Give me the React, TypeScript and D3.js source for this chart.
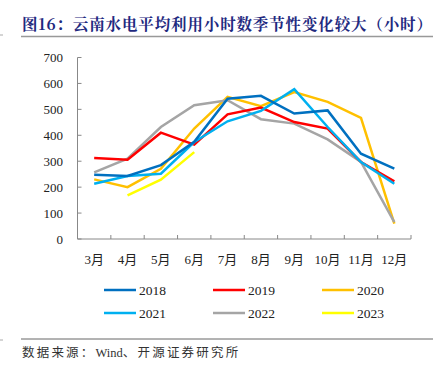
import React from "react";
import * as d3 from "d3";

const months = ["3月", "4月", "5月", "6月", "7月", "8月", "9月", "10月", "11月", "12月"];
const yTicks = [0, 100, 200, 300, 400, 500, 600, 700];

const s2018 = [248, 243, 285, 375, 541, 552, 484, 496, 329, 271];
const s2019 = [312, 306, 410, 364, 481, 507, 451, 426, 297, 222];
const s2020 = [230, 200, 271, 426, 548, 512, 567, 529, 467, 59];
const s2021 = [213, 243, 252, 374, 454, 494, 578, 432, 297, 213];
const s2022 = [257, 310, 432, 516, 535, 462, 445, 384, 297, 65];
const s2023: (number | null)[] = [null, 168, 229, 335, null, null, null, null, null, null];

const seriesNames = ["2018", "2019", "2020", "2021", "2022", "2023"];
const seriesColors = ["#0070C0", "#FF0000", "#FFC000", "#00B0F0", "#A5A5A5", "#FFFF00"];
const seriesData = [s2018, s2019, s2020, s2021, s2022, s2023];
const drawOrder = [5, 2, 4, 1, 3, 0];

const serif = "'Liberation Serif', 'Times New Roman', 'Noto Sans CJK SC', serif";

export default function App() {
  const W = 441, H = 379;
  const left = 77.5, right = 411, top = 57.5, bottom = 239;
  const x = d3.scaleBand<string>().domain(months).range([left, right]);
  const y = d3.scaleLinear().domain([0, 700]).range([bottom, top]);
  const line = d3
    .line<number | null>()
    .defined((d) => d !== null)
    .x((_, i) => (x(months[i]) as number) + x.bandwidth() / 2)
    .y((d) => y(d as number));

  const legendCols = [104, 213, 322];
  const legendRows = [290, 313];

  return (
    <svg width={W} height={H} style={{ position: "absolute", left: 0, top: 0, background: "#fff" }}>
      <text x={22} y={30} fontFamily="'Noto Serif CJK SC', 'Noto Sans CJK SC', sans-serif" fontWeight="bold" fontSize={15.5} fill="#1F2A80" textLength={410} lengthAdjust="spacing">
        图16：云南水电平均利用小时数季节性变化较大（小时）
      </text>
      <line x1={21} x2={433} y1={36.5} y2={36.5} stroke="#999" strokeWidth={1.5} />
      <line x1={0} x2={3} y1={35} y2={35} stroke="#aaa" strokeWidth={1} />

      <line x1={left} x2={left} y1={top} y2={bottom} stroke="#888" strokeWidth={1} />
      <line x1={left} x2={right} y1={bottom} y2={bottom} stroke="#888" strokeWidth={1} />
      {yTicks.map((t) => (
        <g key={t}>
          <line x1={left} x2={left + 4} y1={y(t)} y2={y(t)} stroke="#888" />
          <text x={63} y={y(t)} dy="0.35em" textAnchor="end" fontFamily={serif} fontSize={13} fill="#222">
            {t}
          </text>
        </g>
      ))}
      {months.map((m) => (
        <g key={m}>
          <line x1={(x(m) as number) + x.bandwidth()} x2={(x(m) as number) + x.bandwidth()} y1={bottom} y2={bottom - 4} stroke="#888" />
          <text x={(x(m) as number) + x.bandwidth() / 2} y={259} dy="0.35em" textAnchor="middle" fontFamily={serif} fontSize={13} fill="#222">
            {m}
          </text>
        </g>
      ))}

      {drawOrder.map((si) => (
        <path key={si} d={line(seriesData[si]) || ""} fill="none" stroke={seriesColors[si]} strokeWidth={2.5} strokeLinejoin="miter" />
      ))}

      {seriesNames.map((n, i) => {
        const cx = legendCols[i % 3];
        const cy = legendRows[Math.floor(i / 3)];
        return (
          <g key={n}>
            <line x1={cx} x2={cx + 32} y1={cy} y2={cy} stroke={seriesColors[i]} strokeWidth={2.5} />
            <text x={cx + 35} y={cy} dy="0.35em" fontFamily={serif} fontSize={13.5} fill="#222">
              {n}
            </text>
          </g>
        );
      })}

      <line x1={21} x2={433} y1={339} y2={339} stroke="#666" strokeWidth={1} />
      <line x1={0} x2={3} y1={340} y2={340} stroke="#aaa" strokeWidth={1} />
      <text x={22} y={353} dy="0.35em" fontFamily={serif} fontSize={12.5} fill="#333">
        <tspan letterSpacing={2.2}>数据来源：</tspan>
        <tspan>Wind</tspan>
        <tspan letterSpacing={2.2}>、开源证券研究所</tspan>
      </text>
    </svg>
  );
}
